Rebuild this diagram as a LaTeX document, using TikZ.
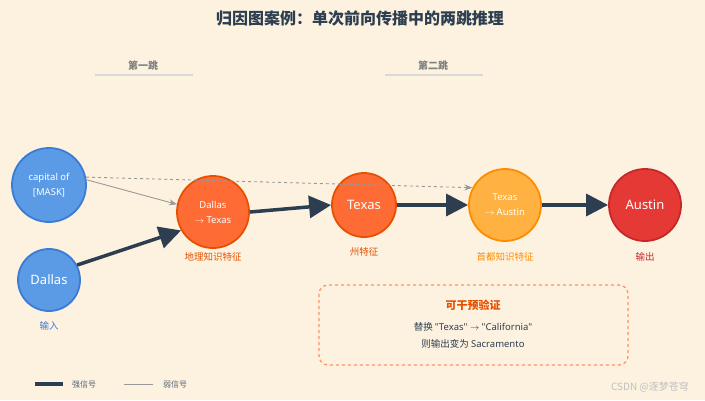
\documentclass[tikz,border=0pt]{standalone}
\usepackage{fontspec}
\setmainfont{Noto Sans CJK SC}
\newfontfamily\lat{Noto Sans}
\usetikzlibrary{arrows.meta}
\definecolor{bgcol}{HTML}{FDF2E0}
\definecolor{ink}{HTML}{2C3E50}
\definecolor{inblue}{HTML}{5B9BE6}
\definecolor{inblueb}{HTML}{3A7BD5}
\definecolor{geor}{HTML}{FF6B35}
\definecolor{geob}{HTML}{E65100}
\definecolor{capo}{HTML}{FFB142}
\definecolor{capb}{HTML}{FF8C00}
\definecolor{outr}{HTML}{E53935}
\definecolor{outb}{HTML}{C62828}
\tikzset{
  feat/.style={circle,line width=1.8pt,text=white,font=\fontsize{13}{15}\lat\bfseries,align=center,inner sep=0pt},
  small feat/.style={font=\fontsize{9.5}{15}\lat\bfseries},
  strong/.style={line width=3.5pt,draw=ink,-{Triangle[length=22pt,width=22pt]}},
  weak/.style={line width=0.9pt,draw=gray!80,-{Stealth[length=8pt]}},
  lab/.style={font=\fontsize{9.5}{11}\selectfont},
}
\begin{document}
\begin{tikzpicture}[x=1pt,y=-1pt]
	\fill[bgcol] (0,0) rectangle (705,400);
	\node[font=\fontsize{16}{18}\selectfont\bfseries,text=ink] (title) at (360,18) {归因图案例：单次前向传播中的两跳推理};

	% hop headers
	\node[font=\fontsize{10}{12}\selectfont\bfseries,text=gray] (hopA) at (143,66) {第一跳};
	\node[font=\fontsize{10}{12}\selectfont\bfseries,text=gray] (hopB) at (433,66) {第二跳};
	\draw[gray!30,line width=1.2pt] (95,75) -- (193,75);
	\draw[gray!30,line width=1.2pt] (385,75) -- (483,75);

	% nodes
	\node[feat,small feat,minimum size=74pt,fill=inblue,draw=inblueb] (cap) at (49,185) {capital of\\{[MASK]}};
	\node[feat,minimum size=62pt,fill=inblue,draw=inblueb] (dal) at (49,280) {Dallas};
	\node[feat,small feat,minimum size=72pt,fill=geor,draw=geob] (geo) at (213,212) {Dallas\\$\rightarrow$ Texas};
	\node[feat,minimum size=64pt,fill=geor,draw=geob] (tex) at (364,205) {Texas};
	\node[feat,small feat,minimum size=72pt,fill=capo,draw=capb] (capf) at (505,205) {Texas\\$\rightarrow$ Austin};
	\node[feat,minimum size=72pt,fill=outr,draw=outb] (aus) at (645,205) {Austin};

	% labels
	\node[lab,text=inblueb] (dalL) at (49,326) {输入};
	\node[lab,text=geob] (geoL) at (213,257) {地理知识特征};
	\node[lab,text=geob] (texL) at (364,252) {州特征};
	\node[lab,text=capb] (capfL) at (505,257) {首都知识特征};
	\node[lab,text=outb] (ausL) at (645,257) {输出};

	% edges
	\draw[weak,dashed] (cap.12) -- (capf.152);
	\draw[weak] (cap.8) -- (geo.168);
	\draw[strong] (dal.28) -- (geo.210);
	\draw[strong] (geo.east) -- (tex.west);
	\draw[strong] (tex) -- (capf);
	\draw[strong] (capf) -- (aus);

	% intervention box
	\draw[geor!75,dashed,line width=1.3pt,rounded corners=9pt] (319,285) rectangle (628,365);
	\node[font=\fontsize{11}{13}\selectfont\bfseries,text=geob] (boxT) at (473,305) {可干预验证};
	\node[lab,text=ink] (boxA) at (473,327) {替换 {\lat "Texas" $\rightarrow$ "California"}};
	\node[lab,text=ink] (boxB) at (473,344) {则输出变为 {\lat Sacramento}};

	% legend
	\coordinate (s1) at (35,384); \coordinate (s2) at (63,384);
	\coordinate (w1) at (124,384); \coordinate (w2) at (153,384);
	\draw[ink,line width=3.5pt] (s1) -- (s2);
	\node[font=\fontsize{8}{10}\selectfont,text=ink!80] (sL) at (84,384) {强信号};
	\draw[gray!80,line width=1pt] (w1) -- (w2);
	\node[font=\fontsize{8}{10}\selectfont,text=ink!80] (wL) at (175,384) {弱信号};
	\node[font=\fontsize{10}{12}\selectfont,text=gray!50] (mark) at (650,387) {CSDN @逐梦苍穹};
\end{tikzpicture}
\end{document}
